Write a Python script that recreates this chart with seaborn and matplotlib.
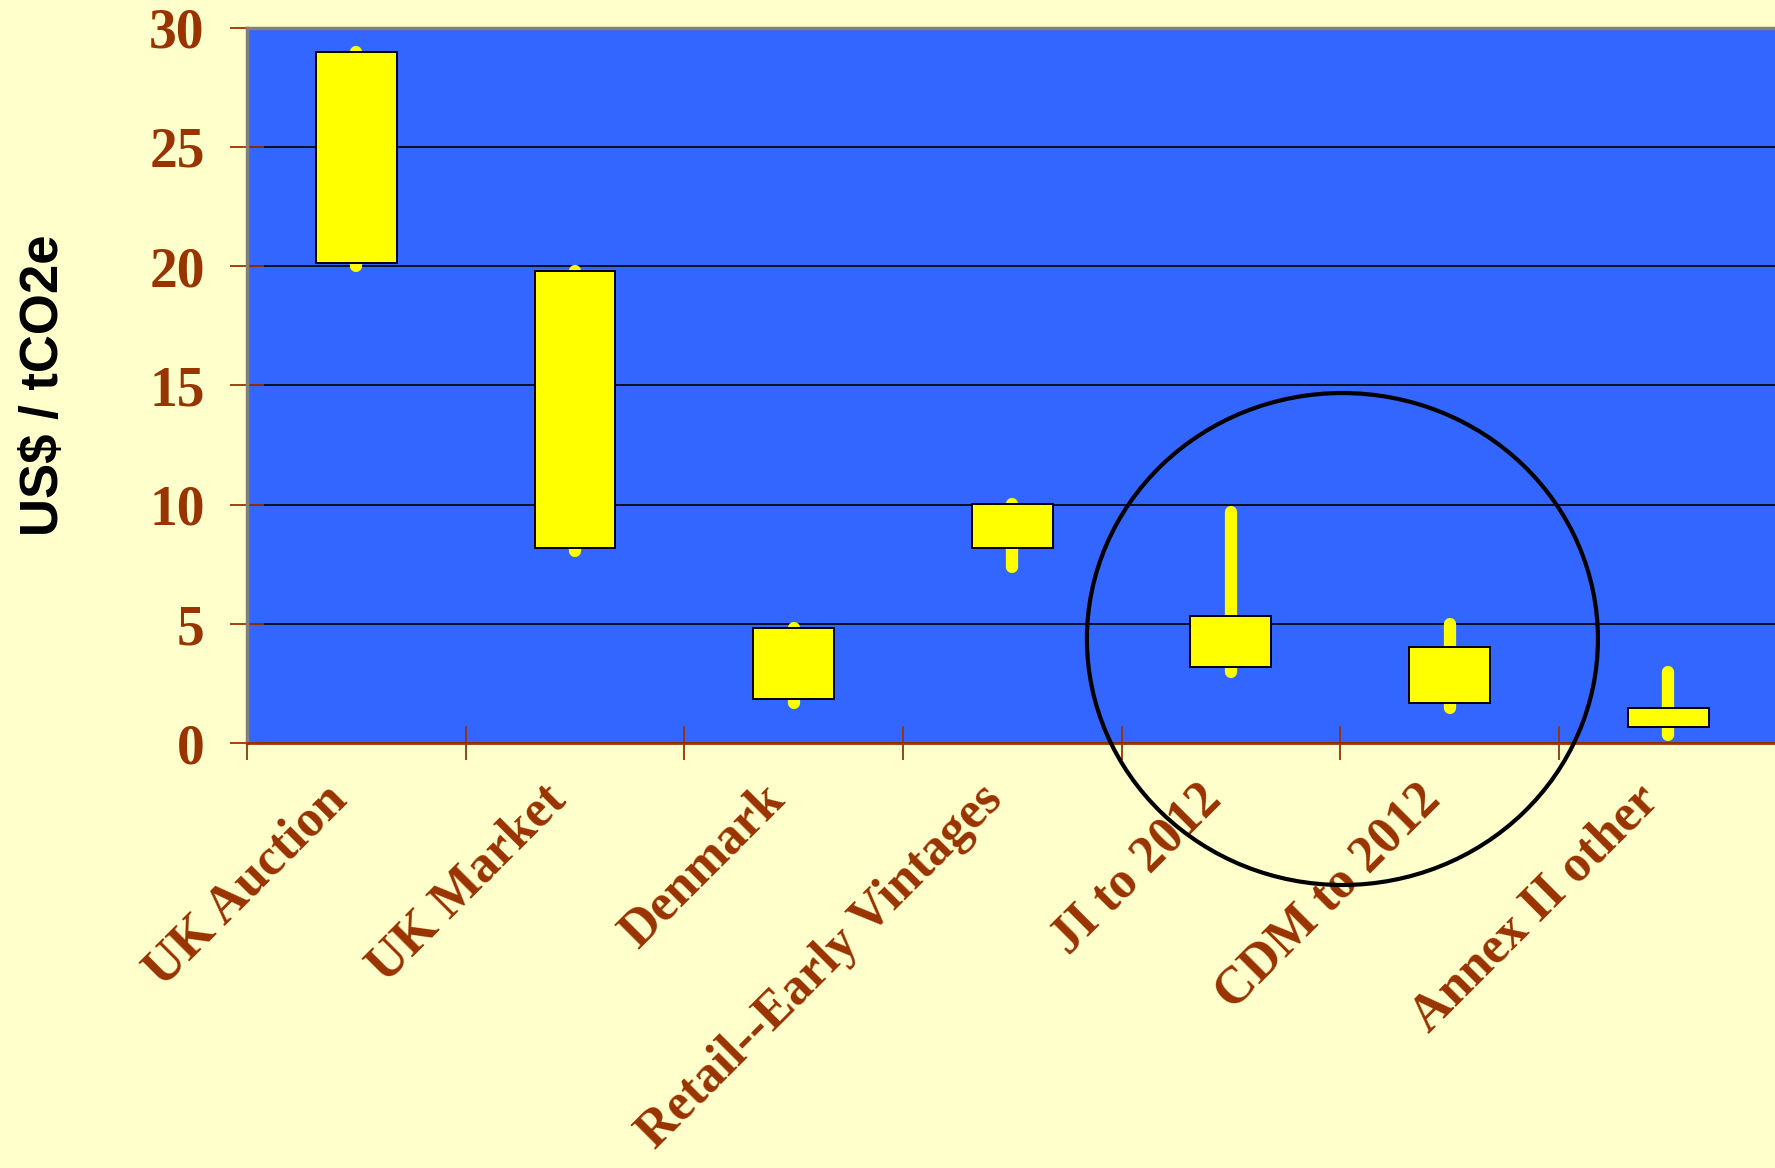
import matplotlib
matplotlib.use("Agg")
import matplotlib.pyplot as plt
from matplotlib.patches import Ellipse
from matplotlib.ticker import FixedLocator
import numpy as np
import pandas as pd
import seaborn as sns

# Carbon credit price ranges, US$ per tonne CO2e
categories = ["UK Auction", "UK Market", "Denmark", "Retail--Early Vintages",
              "JI to 2012", "CDM to 2012", "Annex II other"]
range_low = [20.0, 8.05, 1.7, 7.4, 3.0, 1.5, 0.35]
range_high = [29.0, 19.8, 4.85, 10.05, 9.7, 5.0, 3.0]
core_low = [20.15, 8.2, 1.85, 8.2, 3.2, 1.7, 0.7]
core_high = [29.0, 19.8, 4.85, 10.05, 5.35, 4.05, 1.5]
y_ticks = [0, 5, 10, 15, 20, 25, 30]

BG = "#FFFFCC"
PLOT_BG = "#3366FF"
BRICK = "#993300"
YELLOW = "#FFFF00"

sns.set_theme(style="white")
plt.rcParams["font.family"] = ["Liberation Serif", "DejaVu Serif"]

fig = plt.figure(figsize=(17.75, 11.68), dpi=100, facecolor=BG)
ax = fig.add_axes([0.1392, 0.3636, 0.8622, 0.6127])
ax.set_facecolor(PLOT_BG)

df = pd.DataFrame({
    "market": categories,
    "span": np.subtract(core_high, core_low),
})

# high-low lines behind the boxes
ax.vlines(np.arange(len(categories)), range_low, range_high, colors=YELLOW,
          linewidth=8.8, capstyle="round", zorder=2)

# the boxes: from core_low up to core_high
sns.barplot(data=df, x="market", y="span", bottom=core_low, width=0.37,
            color=YELLOW, saturation=1, edgecolor="black", linewidth=1.4,
            ax=ax, zorder=3)

ax.set_ylim(0, 30)
ax.set_xlim(-0.5, len(categories) - 0.5)
ax.set_yticks(y_ticks)
ax.set_yticklabels([str(t) for t in y_ticks])
ax.set_xlabel("")
ax.set_ylabel("")

ax.set_axisbelow(True)
ax.yaxis.grid(True, color="black", linewidth=1.2)
ax.xaxis.grid(False)

# category separators as minor ticks
ax.xaxis.set_minor_locator(FixedLocator(np.arange(len(categories) + 1) - 0.5))
ax.tick_params(axis="x", which="minor", direction="inout", length=24,
               width=1.3, color=BRICK, bottom=True)
ax.tick_params(axis="x", which="major", length=0, pad=23, bottom=True)
ax.tick_params(axis="y", which="major", direction="inout", length=25,
               width=1.3, color=BRICK, pad=18, left=True)

for lab in ax.get_yticklabels():
    lab.set_fontsize(40)
    lab.set_fontweight("bold")
    lab.set_color(BRICK)
for lab in ax.get_xticklabels():
    lab.set_fontsize(37.3)
    lab.set_fontweight("bold")
    lab.set_color(BRICK)
    lab.set_rotation(45)
    lab.set_ha("right")

for side in ["left", "top"]:
    ax.spines[side].set_color("#808080")
    ax.spines[side].set_linewidth(2.5)
ax.spines["bottom"].set_color(BRICK)
ax.spines["bottom"].set_linewidth(2.0)
ax.spines["right"].set_visible(False)

fig.text(0.025, 0.670, "US$ / tCO2e", rotation=90, ha="center", va="center",
         fontsize=38, fontweight="bold", color="black",
         family=["Liberation Sans", "DejaVu Sans"])

# highlight ring around the project-based mechanisms
fig.add_artist(Ellipse((0.7563, 0.4529), 0.2879, 0.4212,
                       transform=fig.transFigure, fill=False,
                       edgecolor="black", linewidth=3, zorder=10))

fig.savefig("out.png", dpi=100, facecolor=BG)
